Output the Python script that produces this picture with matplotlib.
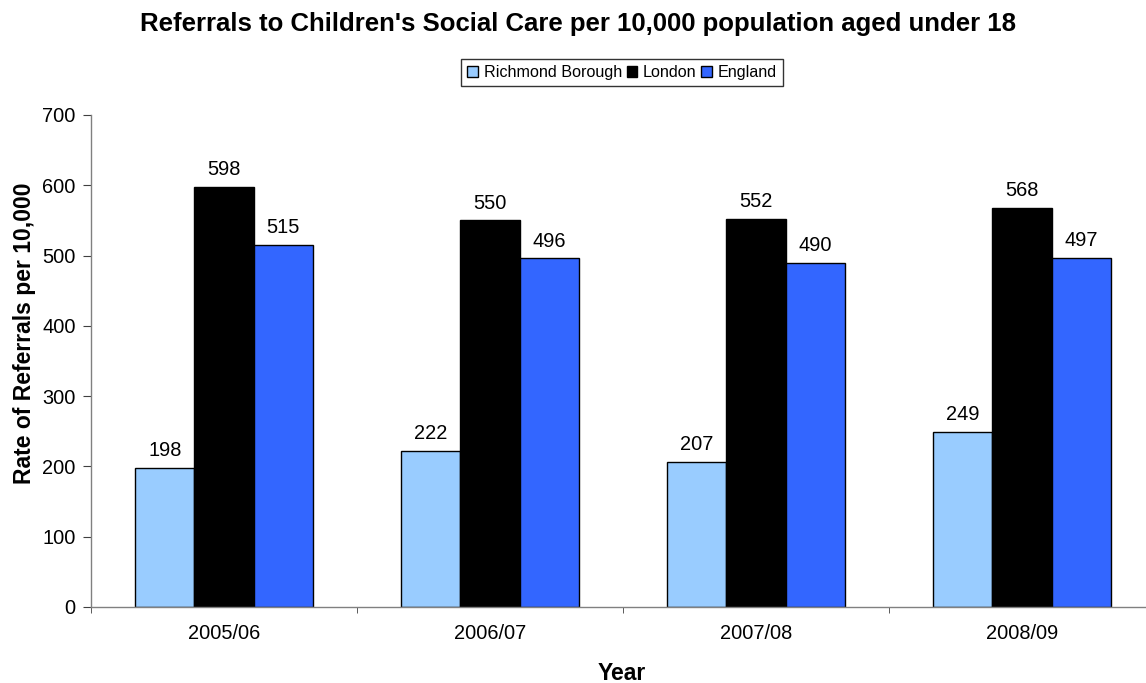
import matplotlib
matplotlib.use("Agg")
import matplotlib.pyplot as plt
import numpy as np

plt.rcParams['font.family'] = ['Liberation Sans', 'DejaVu Sans']

years = ["2005/06", "2006/07", "2007/08", "2008/09"]
series_names = ["Richmond Borough", "London", "England"]
richmond = [198, 222, 207, 249]
london = [598, 550, 552, 568]
england = [515, 496, 490, 497]
colors = ["#99CCFF", "#000000", "#3366FF"]

W, H = 1146, 683
fig = plt.figure(figsize=(W / 100, H / 100), dpi=100)
ax = fig.add_axes([91 / W, 76 / H, (1155 - 91) / W, (607 - 115) / H])

x = np.arange(len(years))
w = 1 / 4.5
handles = []
for i, (vals, c, name) in enumerate(zip([richmond, london, england], colors, series_names)):
    pos = x + (i - 1) * w
    b = ax.bar(pos, vals, width=w, color=c, edgecolor="black", linewidth=1.0, label=name)
    handles.append(b)
    for px, v in zip(pos, vals):
        ax.annotate(f"{v}", (px, v), xytext=(0, 5.6), textcoords="offset points",
                    ha="center", va="bottom", fontsize=14.4)

ax.set_xlim(-0.5, len(years) - 0.5)
ax.set_ylim(0, 700)
ax.set_yticks(range(0, 701, 100))
ax.set_xticks(x)
ax.set_xticklabels(years)
ax.set_xticks(np.arange(-0.5, len(years), 1.0), minor=True)
ax.tick_params(axis="x", which="major", length=0, pad=12.5, labelsize=14.4)
ax.tick_params(axis="x", which="minor", length=4.5, direction="out", color="#404040")
ax.tick_params(axis="y", length=5.5, direction="out", color="#404040", labelsize=14.4, pad=5.5)

for s in ["top", "right"]:
    ax.spines[s].set_visible(False)
for s in ["left", "bottom"]:
    ax.spines[s].set_color("#808080")
    ax.spines[s].set_linewidth(1.0)

fig.text(622 / W, 1 - 680 / H, "Year", ha="center", va="baseline",
         fontsize=16.5, fontweight="bold")
fig.text(24.5 / W, 1 - 333.5 / H, "Rate of Referrals per 10,000", ha="center", va="center",
         rotation=90, fontsize=16.5, fontweight="bold")

fig.text(577.5 / W, 1 - 31 / H,
         "Referrals to Children's Social Care per 10,000 population aged under 18",
         ha="center", va="baseline", fontsize=18.5, fontweight="bold")

leg = fig.legend(handles=handles, labels=series_names, loc="center",
                 bbox_to_anchor=(622 / W, 1 - 72.5 / H), ncol=3, fontsize=11.6,
                 frameon=True, fancybox=False, edgecolor="black", handlelength=0.65,
                 handleheight=0.65, handletextpad=0.35, columnspacing=0.3,
                 borderpad=0.38, borderaxespad=0)
leg.get_frame().set_linewidth(1.0)

fig.savefig("out.png", dpi=100)
